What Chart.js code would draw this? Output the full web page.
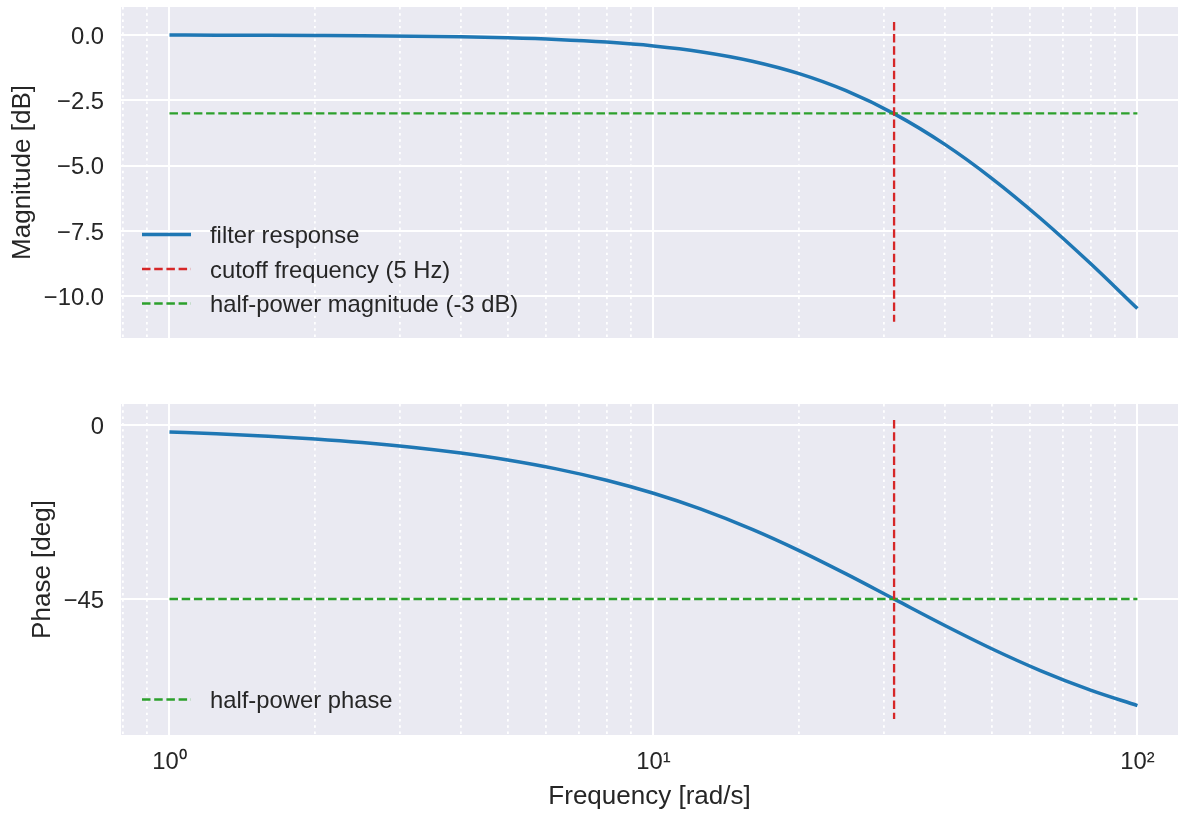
<!DOCTYPE html>
<html lang="en">
<head>
<meta charset="UTF-8">
<title>Low-pass filter Bode plot</title>
<script src="https://cdn.jsdelivr.net/npm/chart.js"></script>
<style>
  html, body { margin: 0; padding: 0; background: #fff; }
  .panel { position: absolute; left: 0; width: 1178px; }
  #magPanel { top: 0; height: 338px; }
  #phasePanel { top: 397px; height: 417px; }
</style>
</head>
<body>
<div class="panel" id="magPanel"><canvas id="magChart" width="1178" height="338"></canvas></div>
<div class="panel" id="phasePanel"><canvas id="phaseChart" width="1178" height="417"></canvas></div>

<script>
// values (frequency in rad/s)
const freq = [1, 1.25, 1.6, 2, 2.5, 3.2, 4, 5, 6.3, 8, 10, 12.5, 16, 20, 25, 31.6, 40, 50, 63, 80, 100];
const magnitude = [-0.004, -0.007, -0.011, -0.018, -0.027, -0.045, -0.070, -0.109, -0.171, -0.273, -0.419,
                   -0.638, -1.002, -1.478, -2.131, -3.036, -4.185, -5.481, -7.008, -8.742, -10.466];
const phase = [-1.82, -2.28, -2.92, -3.64, -4.55, -5.82, -7.26, -9.04, -11.34, -14.29, -17.66,
               -21.70, -26.99, -32.48, -38.51, -45.17, -51.85, -57.86, -63.50, -68.56, -72.56];

const cutoff = 31.42;                 // 5 Hz
const cutoffSpanMag = [0.5, -10.97];  // red dashed line, top panel
const cutoffSpanPhase = [1.3, -76.0]; // red dashed line, bottom panel
const halfPowerSpan = [1, 100];
const halfPowerMag = -3;
const halfPowerPhase = -45;

const magTicks = [0, -2.5, -5, -7.5, -10];
const phaseTicks = [0, -45];
const decadeTicks = [1, 10, 100];
const minorTicks = [0.8, 0.9, 2, 3, 4, 5, 6, 7, 8, 9, 20, 30, 40, 50, 60, 70, 80, 90];

const BLUE = '#1f77b4', RED = '#d62728', GREEN = '#2ca02c', TEXT = '#262626';
const FONT = "'Liberation Sans', Arial, sans-serif";
Chart.defaults.font.family = FONT;
Chart.defaults.color = TEXT;

const dashed = [8.5, 3.7];

// plot area fill (seaborn darkgrid)
const plotBackground = {
  id: 'plotBackground',
  beforeDraw(chart) {
    const { ctx, chartArea: a } = chart;
    ctx.save();
    ctx.fillStyle = '#eaeaf2';
    ctx.fillRect(a.left, a.top, a.right - a.left, a.bottom - a.top);
    ctx.restore();
  }
};

// legend in the lower left corner of the plot area, no frame
const cornerLegend = {
  id: 'cornerLegend',
  afterDatasetsDraw(chart, args, opts) {
    const { ctx, chartArea: a } = chart;
    const items = chart.data.datasets.filter(d => !d.hideInLegend);
    ctx.save();
    ctx.font = '23.8px ' + FONT;
    ctx.textBaseline = 'middle';
    items.forEach((ds, i) => {
      const y = a.bottom - opts.bottomGap - (items.length - 1 - i) * opts.rowGap;
      ctx.beginPath();
      ctx.setLineDash(ds.borderDash || []);
      ctx.strokeStyle = ds.borderColor;
      ctx.lineWidth = ds.borderWidth;
      ctx.moveTo(a.left + 21, y);
      ctx.lineTo(a.left + 70, y);
      ctx.stroke();
      ctx.setLineDash([]);
      ctx.fillStyle = TEXT;
      ctx.fillText(ds.label, a.left + 89, y + 2);
    });
    ctx.restore();
  }
};

function pts(xs, ys) {
  return xs.map((x, i) => ({ x: x, y: ys[i] }));
}

// drop the edge padding Chart.js reserves for labels at the ends of an axis
function noEdgePadding(s) {
  s.paddingTop = 0;
  s.paddingBottom = 0;
  s.paddingLeft = 0;
  s.paddingRight = 0;
}

function freqAxis(showLabels) {
  return {
    type: 'logarithmic',
    min: 0.794,
    max: 121.3,
    bounds: 'data',
    afterBuildTicks: s => {
      s.ticks = decadeTicks.concat(minorTicks).sort((a, b) => a - b).map(v => ({ value: v, major: decadeTicks.includes(v) }));
    },
    afterFit: s => { s.height = showLabels ? 79 : 0; noEdgePadding(s); },
    grid: {
      color: '#ffffff',
      drawTicks: false,
      lineWidth: c => (c.tick && decadeTicks.includes(c.tick.value)) ? 2 : 1.8
    },
    border: {
      display: false,
      dash: c => (c.tick && decadeTicks.includes(c.tick.value)) ? [] : [2.4, 3.9]
    },
    ticks: {
      display: showLabels,
      autoSkip: false,
      maxRotation: 0,
      padding: 13,
      font: { size: 23.8 },
      color: TEXT,
      callback: v => ({ 1: '10\u2070', 10: '10\u00b9', 100: '10\u00b2' })[v] || ''
    },
    title: {
      display: showLabels,
      text: 'Frequency [rad/s]',
      font: { size: 26 },
      color: TEXT,
      padding: { top: 0, bottom: 2 }
    }
  };
}

function valueAxis(min, max, tickValues, fmt, title, titlePad) {
  return {
    type: 'linear',
    position: 'left',
    min: min,
    max: max,
    afterBuildTicks: s => { s.ticks = tickValues.map(v => ({ value: v })); },
    afterFit: s => { s.width = 121; noEdgePadding(s); },
    grid: { color: '#ffffff', lineWidth: 2, drawTicks: false },
    border: { display: false },
    ticks: { padding: 17, labelOffset: 2, font: { size: 23.8 }, color: TEXT, callback: fmt },
    title: { display: true, text: title, font: { size: 26 }, color: TEXT, padding: { top: titlePad, bottom: 0 } }
  };
}

const minus = s => s.replace('-', '\u2212');

const commonOptions = {
  responsive: false,
  animation: false,
  events: [],
  plugins: { legend: { display: false }, tooltip: { enabled: false } },
  elements: { point: { radius: 0 } }
};

new Chart(document.getElementById('magChart'), {
  type: 'line',
  data: {
    datasets: [
      {
        label: 'filter response',
        data: pts(freq, magnitude),
        borderColor: BLUE, borderWidth: 3.5,
        cubicInterpolationMode: 'monotone',
        order: 3
      },
      {
        label: 'cutoff frequency (5 Hz)',
        data: pts([cutoff, cutoff], cutoffSpanMag),
        borderColor: RED, borderWidth: 2.3, borderDash: dashed,
        order: 1
      },
      {
        label: 'half-power magnitude (-3 dB)',
        data: pts(halfPowerSpan, [halfPowerMag, halfPowerMag]),
        borderColor: GREEN, borderWidth: 2.3, borderDash: dashed,
        order: 2
      }
    ]
  },
  options: Object.assign({}, commonOptions, {
    layout: { padding: { top: 7, right: 0, bottom: 0, left: 0 }, autoPadding: false },
    scales: {
      x: freqAxis(false),
      y: valueAxis(-11.59, 1.07, magTicks, v => minus(v.toFixed(1)), 'Magnitude [dB]', 7)
    },
    plugins: Object.assign({}, commonOptions.plugins, { cornerLegend: { bottomGap: 34.5, rowGap: 34.5 } })
  }),
  plugins: [plotBackground, cornerLegend]
});

new Chart(document.getElementById('phaseChart'), {
  type: 'line',
  data: {
    datasets: [
      {
        label: 'phase',
        data: pts(freq, phase),
        borderColor: BLUE, borderWidth: 3.5,
        cubicInterpolationMode: 'monotone',
        hideInLegend: true,
        order: 3
      },
      {
        label: 'cutoff frequency',
        data: pts([cutoff, cutoff], cutoffSpanPhase),
        borderColor: RED, borderWidth: 2.3, borderDash: dashed,
        hideInLegend: true,
        order: 1
      },
      {
        label: 'half-power phase',
        data: pts(halfPowerSpan, [halfPowerPhase, halfPowerPhase]),
        borderColor: GREEN, borderWidth: 2.3, borderDash: dashed,
        order: 2
      }
    ]
  },
  options: Object.assign({}, commonOptions, {
    layout: { padding: { top: 7, right: 0, bottom: 0, left: 0 }, autoPadding: false },
    scales: {
      x: freqAxis(true),
      y: valueAxis(-80.17, 5.43, phaseTicks, v => minus(String(v)), 'Phase [deg]', 27)
    },
    plugins: Object.assign({}, commonOptions.plugins, { cornerLegend: { bottomGap: 35.5, rowGap: 34.5 } })
  }),
  plugins: [plotBackground, cornerLegend]
});
</script>
</body>
</html>
